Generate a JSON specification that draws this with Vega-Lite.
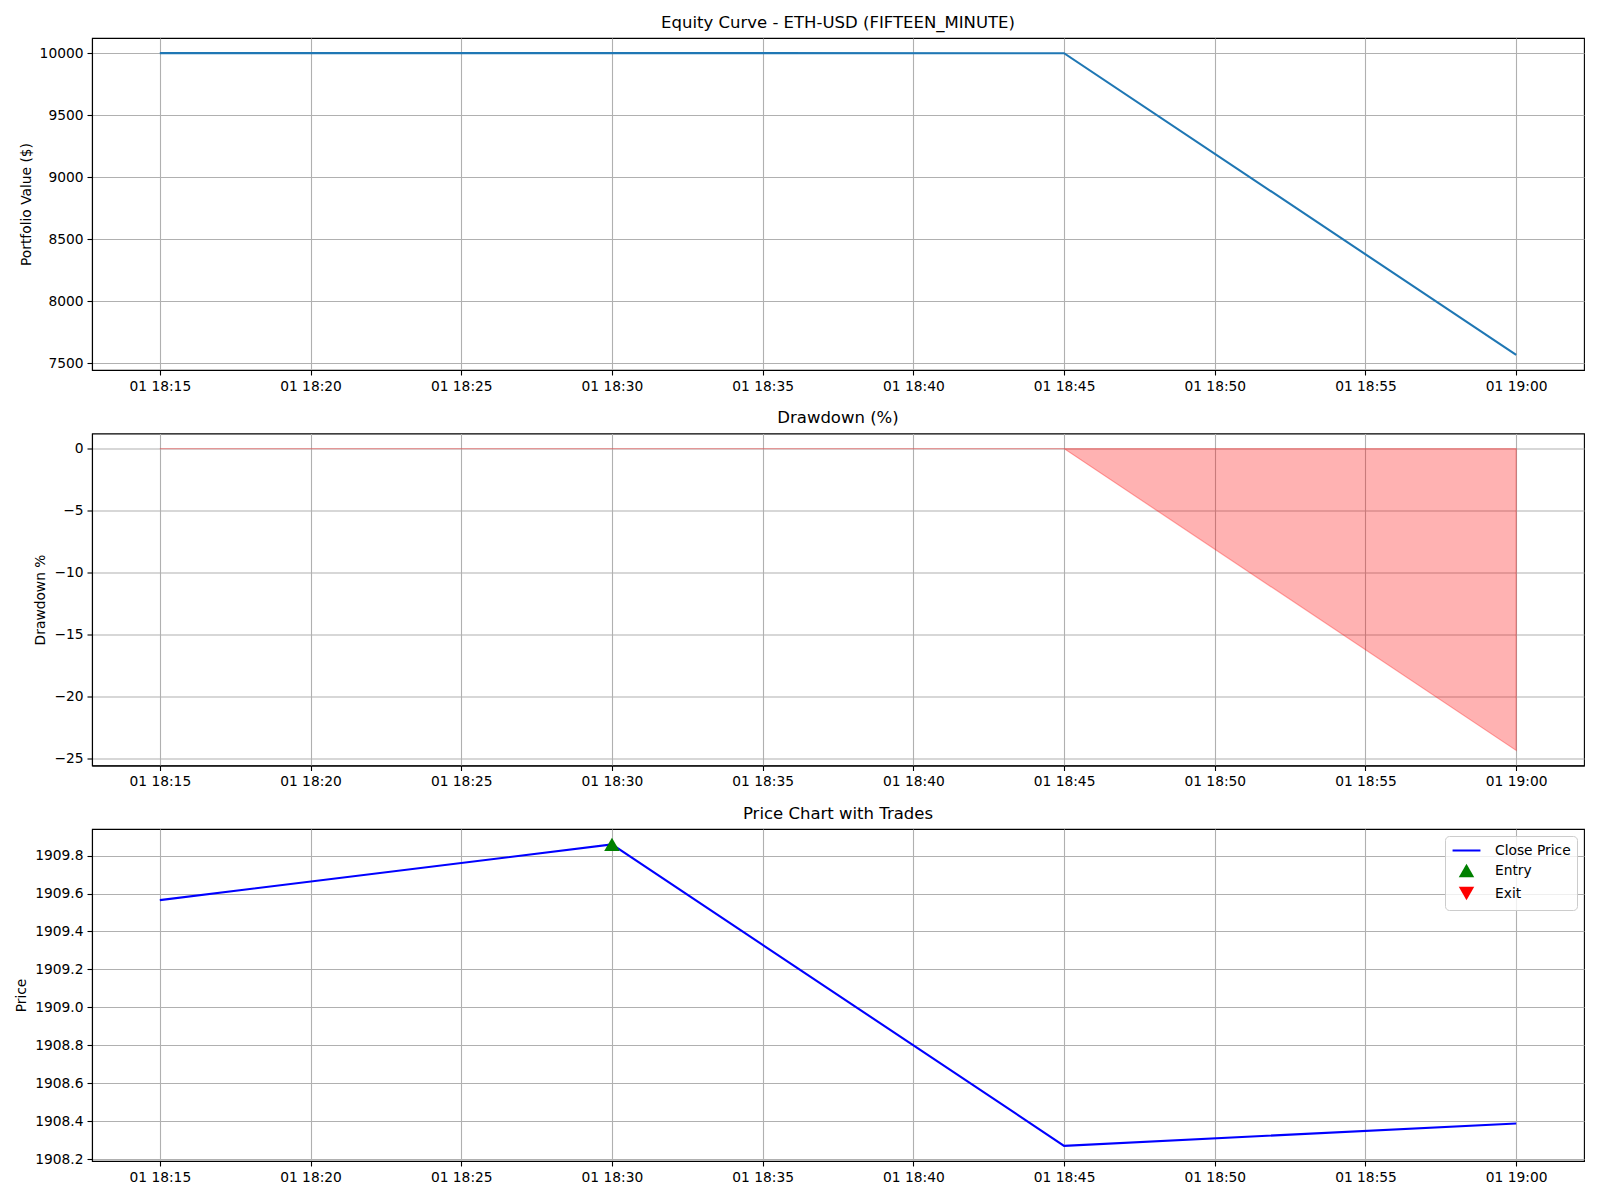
{
  "$schema": "https://vega.github.io/schema/vega-lite/v6.json",
  "padding": {"left": 14, "top": 13, "right": 10, "bottom": 5},
  "spacing": 14.5,
  "background": "white",
  "resolve": {"legend": {"color": "independent", "shape": "independent"}},
  "datasets": {
    "equity": [
      {"t": "2023-06-01T18:15:00", "value": 10000},
      {"t": "2023-06-01T18:30:00", "value": 10000},
      {"t": "2023-06-01T18:45:00", "value": 9999.5},
      {"t": "2023-06-01T19:00:00", "value": 7566}
    ],
    "drawdown": [
      {"t": "2023-06-01T18:15:00", "dd": 0},
      {"t": "2023-06-01T18:30:00", "dd": 0},
      {"t": "2023-06-01T18:45:00", "dd": 0},
      {"t": "2023-06-01T19:00:00", "dd": -24.34}
    ],
    "price": [
      {"t": "2023-06-01T18:15:00", "close": 1909.565},
      {"t": "2023-06-01T18:30:00", "close": 1909.859},
      {"t": "2023-06-01T18:45:00", "close": 1908.27},
      {"t": "2023-06-01T19:00:00", "close": 1908.388}
    ],
    "trades": [
      {"t": "2023-06-01T18:30:00", "price": 1909.859, "kind": "Entry"}
    ]
  },
  "config": {
    "font": "DejaVu Sans",
    "view": {"stroke": "black", "strokeWidth": 1.1},
    "axis": {
      "labelFontSize": 13.8,
      "labelColor": "black",
      "titleFontSize": 13.8,
      "titleFontWeight": "normal",
      "titleColor": "black",
      "grid": true,
      "gridColor": "#b0b0b0",
      "gridWidth": 1.1,
      "domainColor": "black",
      "domainWidth": 1.1,
      "tickColor": "black",
      "tickSize": 5,
      "tickWidth": 1.1,
      "labelPadding": 4,
      "titlePadding": 6
    },
    "title": {"fontSize": 16.5, "fontWeight": "normal", "color": "black", "offset": 7}
  },
  "vconcat": [
    {
      "width": 1492,
      "height": 332,
      "title": "Equity Curve - ETH-USD (FIFTEEN_MINUTE)",
      "data": {"name": "equity"},
      "mark": {"type": "line", "color": "#1f77b4", "strokeWidth": 2.1},
      "encoding": {
        "x": {
          "field": "t", "type": "temporal", "title": null,
          "scale": {"domain": ["2023-06-01T18:12:45", "2023-06-01T19:02:15"]},
          "axis": {"format": "%d %H:%M", "tickCount": 10, "labelFlush": false, "labelOverlap": false}
        },
        "y": {
          "field": "value", "type": "quantitative", "title": "Portfolio Value ($)",
          "scale": {"domain": [7444, 10122], "nice": false, "zero": false},
          "axis": {"values": [7500, 8000, 8500, 9000, 9500, 10000], "format": "d"}
        }
      }
    },
    {
      "width": 1492,
      "height": 332,
      "title": "Drawdown (%)",
      "data": {"name": "drawdown"},
      "mark": {"type": "area", "fill": "red", "fillOpacity": 0.3, "stroke": "red", "strokeOpacity": 0.3, "strokeWidth": 1.2},
      "encoding": {
        "x": {
          "field": "t", "type": "temporal", "title": null,
          "scale": {"domain": ["2023-06-01T18:12:45", "2023-06-01T19:02:15"]},
          "axis": {"format": "%d %H:%M", "tickCount": 10, "labelFlush": false, "labelOverlap": false}
        },
        "y": {
          "field": "dd", "type": "quantitative", "title": "Drawdown %",
          "scale": {"domain": [-25.56, 1.22], "nice": false, "zero": false},
          "axis": {"values": [-25, -20, -15, -10, -5, 0], "format": "d"}
        },
        "y2": {"datum": 0}
      }
    },
    {
      "width": 1492,
      "height": 332,
      "title": "Price Chart with Trades",
      "layer": [
        {
          "data": {"name": "price"},
          "mark": {"type": "line", "color": "blue", "strokeWidth": 2.1},
          "encoding": {
            "x": {
              "field": "t", "type": "temporal", "title": null,
              "scale": {"domain": ["2023-06-01T18:12:45", "2023-06-01T19:02:15"]},
              "axis": {"format": "%d %H:%M", "tickCount": 10, "labelFlush": false, "labelOverlap": false}
            },
            "y": {
              "field": "close", "type": "quantitative", "title": "Price",
              "scale": {"domain": [1908.19, 1909.94], "nice": false, "zero": false},
              "axis": {"values": [1908.2, 1908.4, 1908.6, 1908.8, 1909.0, 1909.2, 1909.4, 1909.6, 1909.8], "format": ".1f"}
            }
          }
        },
        {
          "data": {"name": "trades"},
          "mark": {"type": "point", "filled": true, "opacity": 1, "size": 240},
          "encoding": {
            "x": {"field": "t", "type": "temporal"},
            "y": {"field": "price", "type": "quantitative"},
            "color": {
              "field": "kind", "type": "nominal",
              "scale": {"domain": ["Close Price", "Entry", "Exit"], "range": ["blue", "green", "red"]},
              "legend": {
                "title": null, "orient": "top-right", "offset": 7,
                "fillColor": "rgba(255,255,255,0.8)", "strokeColor": "#cccccc",
                "cornerRadius": 4, "padding": 6, "labelFontSize": 13.8,
                "labelColor": "black", "symbolSize": 240, "rowPadding": 2,
                "symbolOffset": 7, "labelOffset": 20, "symbolOpacity": 1
              }
            },
            "shape": {
              "field": "kind", "type": "nominal",
              "scale": {"domain": ["Close Price", "Entry", "Exit"], "range": ["M-1.8,-0.13L1.8,-0.13L1.8,0.13L-1.8,0.13Z", "triangle-up", "triangle-down"]},
              "legend": {
                "title": null, "orient": "top-right", "offset": 7,
                "fillColor": "rgba(255,255,255,0.8)", "strokeColor": "#cccccc",
                "cornerRadius": 4, "padding": 6, "labelFontSize": 13.8,
                "labelColor": "black", "symbolSize": 240, "rowPadding": 2,
                "symbolOffset": 7, "labelOffset": 20, "symbolOpacity": 1
              }
            }
          }
        }
      ]
    }
  ]
}
